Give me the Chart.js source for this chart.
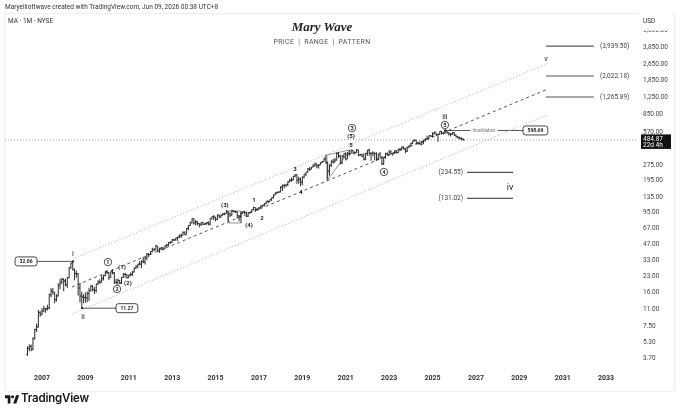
<!DOCTYPE html>
<html>
<head>
<meta charset="utf-8">
<script src="https://cdn.jsdelivr.net/npm/chart.js@4.4.1/dist/chart.umd.min.js"></script>
<style>
  html, body { margin: 0; padding: 0; background: #fff; }
  #wrap { position: relative; width: 680px; height: 414px; overflow: hidden; font-family: Roboto, "DejaVu Sans", sans-serif; }
  #c { position: absolute; left: 0; top: 0; }
  .t { position: absolute; white-space: nowrap; line-height: 1; }
  #frame { position: absolute; left: 4px; top: 13px; width: 669px; height: 377px; border: 1px solid #efefef; }
</style>
</head>
<body>
<div id="wrap">
  <div id="frame"></div>
  <canvas id="c" width="680" height="414"></canvas>
  <div class="t" style="left:5px;top:4px;font-size:6.5px;color:#333">Maryelliottwave created with TradingView.com, Jun 09, 2026 00:38 UTC+8</div>
  <div class="t" style="left:8px;top:18px;font-size:6.5px;color:#333">MA · 1M · NYSE</div>
  <div class="t" style="left:222px;width:200px;text-align:center;top:20px;font-size:13px;font-weight:bold;font-style:italic;font-family:'Liberation Serif','DejaVu Serif',serif;color:#222">Mary Wave</div>
  <div class="t" style="left:222px;width:200px;text-align:center;top:38.5px;font-size:7px;color:#555;letter-spacing:0.3px">PRICE &nbsp;|&nbsp; RANGE &nbsp;|&nbsp; PATTERN</div>
  <svg style="position:absolute;left:5px;top:394px" width="14" height="11" viewBox="0 0 36 28"><path d="M14 24H7V11H0V3h14v21zM29 24h-8l7.5-21h8L29 24z" fill="#131722"/><circle cx="19.5" cy="7" r="4" fill="#131722"/></svg>
  <div class="t" style="left:21px;top:393px;font-size:11.5px;font-weight:600;color:#131722;font-family:Inter,Roboto,sans-serif;letter-spacing:-0.2px">TradingView</div>
</div>

<script>
// monthly bars, first one is May 2006
const startYear = 2006;
const startMonth = 5;
const firstOpen = 4.0;

const closes = [
  4.6, 4.8, 4.5, 5.7, 7.0, 7.4, 10.2, 9.85,                                    // 2006
  10.6, 11.1, 11.1, 11.3, 15.2, 16.6, 16.1, 13.6, 14.8, 18.9, 20.1, 21.5,     // 2007
  20.7, 19.0, 22.3, 27.8, 30.9, 26.6, 24.4, 24.3, 17.7, 14.8, 14.5, 14.3,     // 2008
  14.2, 15.7, 16.7, 18.3, 17.1, 16.7, 19.4, 20.3, 20.2, 21.9, 23.4, 25.6,     // 2009
  25.0, 22.4, 25.4, 24.8, 20.2, 19.95, 21.0, 19.8, 22.4, 24.0, 23.9, 22.4,    // 2010
  23.6, 24.0, 25.2, 27.6, 28.7, 30.1, 30.3, 31.9, 31.7, 34.7, 37.5, 37.3,     // 2011
  40.0, 42.0, 42.1, 45.2, 40.7, 43.0, 43.6, 42.3, 45.1, 46.1, 48.9, 49.1,     // 2012
  51.8, 51.8, 54.1, 55.3, 57.0, 57.5, 61.1, 58.3, 67.3, 71.7, 76.2, 83.5,     // 2013
  75.7, 77.6, 74.7, 73.6, 76.5, 73.5, 74.2, 75.8, 73.9, 83.8, 87.3, 86.2,     // 2014
  81.8, 90.3, 86.4, 90.2, 92.2, 93.5, 97.4, 92.4, 90.1, 99.0, 97.9, 97.4,     // 2015
  89.0, 86.9, 94.5, 97.0, 95.9, 88.1, 95.2, 96.6, 101.8, 107.0, 102.2, 103.3, // 2016
  106.3, 110.6, 112.5, 116.3, 122.9, 121.5, 127.8, 133.3, 141.2, 148.8, 150.5, 151.4, // 2017
  169.0, 175.7, 175.2, 178.3, 190.1, 196.5, 198.0, 215.6, 222.6, 197.7, 201.1, 188.7, // 2018
  211.1, 224.8, 235.4, 254.2, 251.5, 264.5, 272.3, 281.4, 271.6, 276.8, 292.2, 298.6, // 2019
  315.9, 290.3, 241.6, 275.0, 300.9, 295.7, 308.5, 358.2, 338.2, 288.6, 336.5, 356.9, // 2020
  316.3, 353.9, 356.1, 382.1, 360.6, 365.1, 385.9, 346.2, 347.7, 335.5, 314.9, 359.3, // 2021
  386.4, 360.8, 357.4, 363.4, 357.9, 315.5, 353.8, 324.4, 284.3, 328.2, 356.4, 347.7, // 2022
  370.6, 355.3, 363.4, 380.0, 365.1, 393.3, 394.3, 412.6, 395.9, 376.3, 413.8, 426.5, // 2023
  449.2, 474.8, 481.6, 451.2, 447.1, 441.2, 463.7, 483.4, 493.8, 499.6, 532.9, 526.6, // 2024
  555.4, 576.1, 548.1, 548.1, 585.6, 562.0, 566.5, 595.0, 568.8, 552.0, 550.5, 570.5, // 2025
  540.0, 522.0, 512.0, 503.0, 495.0, 484.87                                   // 2026
];
const highs = [
  4.8, 5.0, 5.0, 5.9, 7.1, 8.0, 10.8, 10.6,
  11.3, 11.9, 11.4, 12.2, 15.6, 17.6, 17.8, 16.2, 15.4, 19.7, 21.7, 22.2,
  22.0, 21.6, 22.6, 28.2, 31.2, 32.06, 27.4, 26.1, 24.7, 19.8, 16.3, 15.4,
  16.0, 16.4, 17.8, 19.0, 18.9, 18.1, 19.5, 21.1, 21.5, 23.5, 23.8, 25.8,
  26.5, 25.2, 25.6, 26.9, 25.3, 21.7, 21.7, 21.2, 22.6, 24.7, 24.9, 24.2,
  23.9, 25.0, 26.0, 28.0, 29.4, 30.5, 32.3, 33.0, 35.5, 35.2, 38.6, 38.8,
  40.2, 43.5, 42.9, 46.6, 45.3, 43.6, 44.1, 44.0, 46.0, 47.5, 49.1, 50.2,
  53.0, 53.3, 54.3, 55.6, 58.5, 59.9, 62.8, 62.9, 67.5, 72.0, 78.4, 84.0,
  84.0, 80.8, 78.6, 75.0, 76.8, 77.8, 76.0, 76.8, 78.5, 84.0, 87.6, 90.6,
  87.1, 91.4, 91.0, 92.0, 94.5, 95.0, 101.0, 98.5, 95.5, 101.8, 100.4, 99.0,
  97.7, 90.6, 95.5, 98.2, 99.5, 97.5, 96.5, 97.0, 102.3, 108.9, 107.3, 106.3,
  108.4, 112.2, 114.0, 118.0, 123.0, 125.8, 128.0, 134.1, 142.8, 150.0, 151.8, 154.0,
  171.9, 178.6, 180.4, 182.0, 193.3, 203.7, 209.7, 216.4, 225.4, 225.4, 212.5, 209.3,
  213.8, 226.4, 236.3, 257.0, 263.9, 266.0, 283.3, 293.7, 285.7, 282.0, 294.0, 303.0,
  327.6, 347.3, 299.7, 282.0, 306.7, 316.0, 325.7, 367.3, 367.3, 347.6, 345.8, 359.0,
  367.6, 371.0, 383.8, 392.2, 389.2, 375.7, 395.9, 387.8, 356.5, 356.5, 360.6, 362.0,
  387.7, 397.0, 368.5, 376.6, 364.6, 367.0, 356.0, 370.0, 338.2, 331.6, 363.5, 365.8,
  390.0, 385.0, 364.0, 383.0, 384.0, 396.2, 405.0, 418.6, 418.0, 401.0, 414.0, 428.0,
  453.0, 475.7, 490.0, 482.0, 464.0, 472.5, 469.3, 484.0, 500.0, 531.8, 534.0, 537.7,
  576.9, 582.2, 571.0, 554.0, 587.0, 594.7, 576.0, 598.69, 596.0, 579.0, 566.0, 576.0,
  575.0, 548.0, 530.0, 521.0, 512.0, 500.0
];
const lows = [
  3.9, 4.3, 4.3, 4.4, 5.6, 6.6, 7.3, 9.3,
  9.6, 10.3, 10.2, 10.7, 11.0, 14.4, 15.2, 12.6, 13.1, 14.7, 17.3, 19.2,
  16.5, 18.4, 17.7, 22.0, 27.2, 26.3, 21.0, 22.2, 15.0, 12.8, 11.27, 12.6,
  12.7, 12.9, 13.2, 16.4, 16.4, 15.5, 16.0, 18.9, 19.4, 20.0, 20.9, 23.0,
  24.0, 21.1, 22.3, 24.0, 19.3, 19.2, 19.0, 19.2, 19.4, 22.2, 22.3, 21.8,
  22.0, 23.0, 23.1, 25.2, 27.0, 27.5, 29.2, 27.5, 30.8, 30.0, 33.1, 35.1,
  37.3, 39.3, 40.1, 41.0, 39.3, 38.9, 41.5, 41.2, 42.0, 44.6, 45.0, 47.2,
  48.9, 50.6, 51.1, 50.5, 54.0, 54.0, 57.5, 57.4, 59.0, 64.5, 71.3, 75.0,
  73.3, 71.6, 72.5, 68.7, 70.8, 72.5, 72.4, 73.0, 72.1, 71.5, 82.0, 80.5,
  78.5, 80.7, 84.2, 85.6, 89.3, 89.9, 93.1, 78.5, 86.7, 89.5, 96.0, 94.6,
  83.8, 78.5, 85.5, 92.4, 92.4, 86.0, 86.7, 93.8, 95.5, 100.5, 97.5, 99.5,
  101.3, 104.9, 108.9, 109.6, 115.8, 117.9, 121.3, 124.0, 130.9, 140.7, 143.6, 148.3,
  150.6, 155.8, 164.2, 170.3, 172.8, 188.6, 190.1, 196.6, 210.1, 182.4, 181.7, 171.9,
  176.3, 206.0, 215.9, 234.5, 242.2, 250.8, 263.3, 265.4, 257.1, 256.0, 276.6, 289.5,
  297.6, 285.5, 199.99, 219.1, 264.7, 284.0, 291.9, 306.5, 323.0, 281.2, 281.7, 320.0,
  306.0, 318.7, 340.3, 355.0, 356.0, 350.4, 361.3, 337.2, 338.0, 331.0, 305.6, 308.1,
  340.2, 339.3, 305.0, 337.4, 305.6, 303.7, 307.1, 322.4, 276.9, 276.9, 317.6, 339.4,
  346.5, 351.6, 340.2, 353.1, 357.9, 361.4, 386.1, 383.0, 393.8, 359.8, 370.3, 403.0,
  418.6, 442.4, 471.0, 438.0, 436.0, 438.0, 428.0, 440.0, 465.6, 483.0, 491.3, 519.0,
  514.0, 551.0, 528.0, 465.6, 548.0, 548.0, 546.0, 560.0, 556.0, 535.0, 524.0, 545.0,
  528.0, 512.0, 498.0, 490.0, 482.0, 476.0
];

const yearTicks = [2007, 2009, 2011, 2013, 2015, 2017, 2019, 2021, 2023, 2025, 2027, 2029, 2031, 2033];
const priceTicks = [3.7, 5.3, 7.5, 11, 16, 23, 33, 47, 67, 95, 135, 195, 275, 570, 850, 1250, 1850, 2650, 3850, 5600];
const lastPrice = 484.87;
const countdown = "22d 4h";

// channel: two points each (year, price)
const upperX = [2008.52, 2030.36], upperY = [34.6, 2705];
const midX = [2008.38, 2030.32], midY = [18.1, 1513];
const lowX = [2008.38, 2030.27], lowY = [9.9, 846];

// projected targets
const targetPrices = [3939.5, 2022.18, 1265.89, 234.55, 131.02];
const targetFrom = [2030.23, 2030.23, 2030.23, 2026.59, 2026.59];
const targetTo = [2032.44, 2032.44, 2032.44, 2028.71, 2028.71];

// wave labels
const waveText = ["i", "ii", "1", "(1)", "2", "(2)", "(3)", "(4)", "1", "2", "3", "4", "3", "(5)", "5", "4", "iii", "5", "iv", "v"];
const waveYear = [2008.43, 2008.89, 2010.04, 2010.69, 2010.46, 2010.96, 2015.43, 2016.54, 2016.77, 2017.14, 2018.66, 2018.94, 2021.29, 2021.24, 2021.24, 2022.76, 2025.57, 2025.57, 2028.57, 2030.23];
const wavePrice = [37.9, 9.25, 31.6, 27.7, 17.3, 19.4, 113, 70.8, 124, 84.6, 253, 151, 633, 529, 432, 237, 810, 677, 165, 2960];
const waveKind = ["roman", "roman", "circle", "num", "circle", "num", "num", "num", "num", "num", "num", "num", "circle", "num", "num", "circle", "roman", "circle", "romanBig", "roman"];

// price callouts: pivot -> box
const calloutText = ["32.06", "11.27", "598.69"];
const calloutPrice = [32.06, 11.27, 598.69];
const calloutFrom = [2008.43, 2008.85, 2025.58];
const calloutTo = [2006.77, 2010.41, 2029.17];

// drawn shapes
const boxX = [2015.57, 2016.17, 2016.17, 2015.57, 2015.57];
const boxY = [98.9, 98.9, 75.7, 75.7, 98.9];
const triX = [2020.13, 2021.19, 2020.13, 2020.13];
const triY = [346, 387, 194, 346];

const xMin = 2005.295, xMax = 2034.47;
const yMin = 2.83, yMax = 8090;

const barX = (i) => startYear + (startMonth - 1 + i) / 12;
const pts = (xs, ys) => xs.map((x, i) => ({ x: x, y: ys[i] }));
const fmt = (v) => v.toLocaleString("en-US", { minimumFractionDigits: 2, maximumFractionDigits: 2 });

function lineSet(data, color, dash, width) {
  return {
    type: "line", data: data, borderColor: color, borderWidth: width || 1,
    borderDash: dash || [], pointRadius: 0, fill: false, tension: 0, order: 2,
  };
}

const datasets = [
  {
    type: "bar",
    data: closes.map((c, i) => ({ x: barX(i), y: [lows[i], highs[i]] })),
    backgroundColor: "#2b2b2b",
    barThickness: 1,
    borderWidth: 0,
    inflateAmount: 0,
    order: 0,
  },
  lineSet([{ x: xMin, y: lastPrice }, { x: xMax, y: lastPrice }], "#9a9a9a", [1, 2]),
  lineSet(pts(upperX, upperY), "#b0b0b0", [1, 2]),
  lineSet(pts(lowX, lowY), "#b0b0b0", [1, 2]),
  lineSet(pts(midX, midY), "#555", [3, 3]),
  lineSet(pts(boxX, boxY), "#777", [], 0.8),
  lineSet(pts(triX, triY), "#777", [], 0.8),
];
targetPrices.forEach((p, i) => {
  datasets.push(lineSet([{ x: targetFrom[i], y: p }, { x: targetTo[i], y: p }], "#555", [], 1.2));
});
calloutPrice.forEach((p, i) => {
  datasets.push(lineSet([{ x: calloutFrom[i], y: p }, { x: calloutTo[i], y: p }], "#555", [], 1));
});

// open/close ticks of the monthly bars
const ohlcTicks = {
  id: "ohlcTicks",
  afterDatasetsDraw(chart) {
    const { ctx, scales: { x, y } } = chart;
    ctx.save();
    ctx.strokeStyle = "#2b2b2b";
    ctx.lineWidth = 0.8;
    ctx.beginPath();
    closes.forEach((c, i) => {
      const px = x.getPixelForValue(barX(i));
      const po = y.getPixelForValue(i ? closes[i - 1] : firstOpen);
      const pc = y.getPixelForValue(c);
      ctx.moveTo(px - 1.4, po); ctx.lineTo(px, po);
      ctx.moveTo(px, pc); ctx.lineTo(px + 1.4, pc);
    });
    ctx.stroke();
    ctx.restore();
  },
};

function roundRect(ctx, x, y, w, h, r) {
  ctx.beginPath();
  ctx.moveTo(x + r, y);
  ctx.arcTo(x + w, y, x + w, y + h, r);
  ctx.arcTo(x + w, y + h, x, y + h, r);
  ctx.arcTo(x, y + h, x, y, r);
  ctx.arcTo(x, y, x + w, y, r);
  ctx.closePath();
}

const annotations = {
  id: "annotations",
  afterDraw(chart) {
    const { ctx, chartArea, scales: { x, y } } = chart;
    ctx.save();
    ctx.textBaseline = "middle";

    // wave labels
    waveText.forEach((t, i) => {
      const px = x.getPixelForValue(waveYear[i]);
      const py = y.getPixelForValue(wavePrice[i]);
      const kind = waveKind[i];
      ctx.textAlign = "center";
      ctx.fillStyle = "#222";
      if (kind === "circle") {
        ctx.beginPath();
        ctx.arc(px, py, 3.7, 0, Math.PI * 2);
        ctx.fillStyle = "#fff";
        ctx.fill();
        ctx.strokeStyle = "#222";
        ctx.lineWidth = 0.8;
        ctx.stroke();
        ctx.fillStyle = "#222";
        ctx.font = "bold 5.5px Roboto, sans-serif";
        ctx.fillText(t, px, py + 0.3);
      } else if (kind === "num") {
        ctx.font = "bold 6px Roboto, sans-serif";
        ctx.fillText(t, px, py);
      } else if (kind === "romanBig") {
        ctx.font = "9px Roboto, sans-serif";
        ctx.fillText(t, px, py);
      } else {
        ctx.font = "7.5px Roboto, sans-serif";
        ctx.fillText(t, px, py);
      }
    });

    // target labels
    ctx.font = "6.5px Roboto, sans-serif";
    ctx.fillStyle = "#444";
    targetPrices.forEach((p, i) => {
      const py = y.getPixelForValue(p);
      const label = "(" + fmt(p) + ")";
      if (i < 3) {
        ctx.textAlign = "left";
        ctx.fillText(label, x.getPixelForValue(targetTo[i]) + 6, py);
      } else {
        ctx.textAlign = "right";
        ctx.fillText(label, x.getPixelForValue(targetFrom[i]) - 4, py);
      }
    });

    // callout boxes
    calloutText.forEach((t, i) => {
      const py = y.getPixelForValue(calloutPrice[i]);
      const fx = x.getPixelForValue(calloutFrom[i]);
      const tx = x.getPixelForValue(calloutTo[i]);
      ctx.font = "bold 5px Roboto, sans-serif";
      const w = ctx.measureText(t).width + 9;
      const bx = tx < fx ? tx - w : tx;
      roundRect(ctx, bx, py - 4.5, w, 9, 2.5);
      ctx.fillStyle = "#fff";
      ctx.fill();
      ctx.strokeStyle = "#333";
      ctx.lineWidth = 0.9;
      ctx.stroke();
      ctx.fillStyle = "#222";
      ctx.textAlign = "center";
      ctx.fillText(t, bx + w / 2, py + 0.3);
      ctx.beginPath();
      ctx.arc(fx, py, 1.1, 0, Math.PI * 2);
      ctx.fill();
    });

    // invalidation text on its line
    {
      const py = y.getPixelForValue(calloutPrice[2]);
      const mx = (x.getPixelForValue(calloutFrom[2]) + x.getPixelForValue(calloutTo[2])) / 2;
      ctx.font = "4.5px Roboto, sans-serif";
      const w = ctx.measureText("Invalidation").width + 4;
      ctx.fillStyle = "#fff";
      ctx.fillRect(mx - w / 2, py - 3, w, 6);
      ctx.fillStyle = "#777";
      ctx.textAlign = "center";
      ctx.fillText("Invalidation", mx, py);
    }

    // price scale: hide top of the cut label, currency, last price box
    const ax = chartArea.right;
    ctx.fillStyle = "#fff";
    ctx.fillRect(ax + 1, 12, 680 - ax - 9, 18.5);
    ctx.fillStyle = "#333";
    ctx.textAlign = "left";
    ctx.font = "6.5px Roboto, sans-serif";
    ctx.fillText("USD", ax + 5, 21);

    const py = y.getPixelForValue(lastPrice);
    ctx.fillStyle = "#111";
    ctx.fillRect(ax + 3, py - 5.5, 30, 14.5);
    ctx.fillStyle = "#fff";
    ctx.font = "6.5px Roboto, sans-serif";
    ctx.fillText(fmt(lastPrice), ax + 5, py - 1);
    ctx.fillText(countdown, ax + 5, py + 5.5);
    ctx.restore();
  },
};

new Chart(document.getElementById("c"), {
  type: "bar",
  data: { datasets: datasets },
  options: {
    responsive: false,
    animation: false,
    events: [],
    layout: { padding: { left: 5, top: 14, right: 0, bottom: 26 } },
    plugins: { legend: { display: false }, tooltip: { enabled: false } },
    scales: {
      x: {
        type: "linear", position: "bottom", min: xMin, max: xMax, offset: false,
        afterBuildTicks: (s) => { s.ticks = yearTicks.map((v) => ({ value: v })); },
        afterFit: (s) => { s.height = 18; },
        grid: { display: false, drawTicks: false },
        border: { display: false },
        ticks: {
          autoSkip: false, maxRotation: 0, padding: 4, color: "#333",
          font: { size: 7, weight: "bold", family: "Roboto" },
          callback: (v) => String(v),
        },
      },
      y: {
        type: "logarithmic", position: "right", min: yMin, max: yMax,
        afterBuildTicks: (s) => { s.ticks = priceTicks.map((v) => ({ value: v })); },
        afterFit: (s) => { s.width = 42; },
        grid: { display: false, drawTicks: false },
        border: { display: false },
        ticks: {
          autoSkip: false, padding: 5, color: "#444",
          font: { size: 6.5, family: "Roboto" },
          callback: (v) => fmt(v),
        },
      },
    },
  },
  plugins: [ohlcTicks, annotations],
});
</script>
</body>
</html>
